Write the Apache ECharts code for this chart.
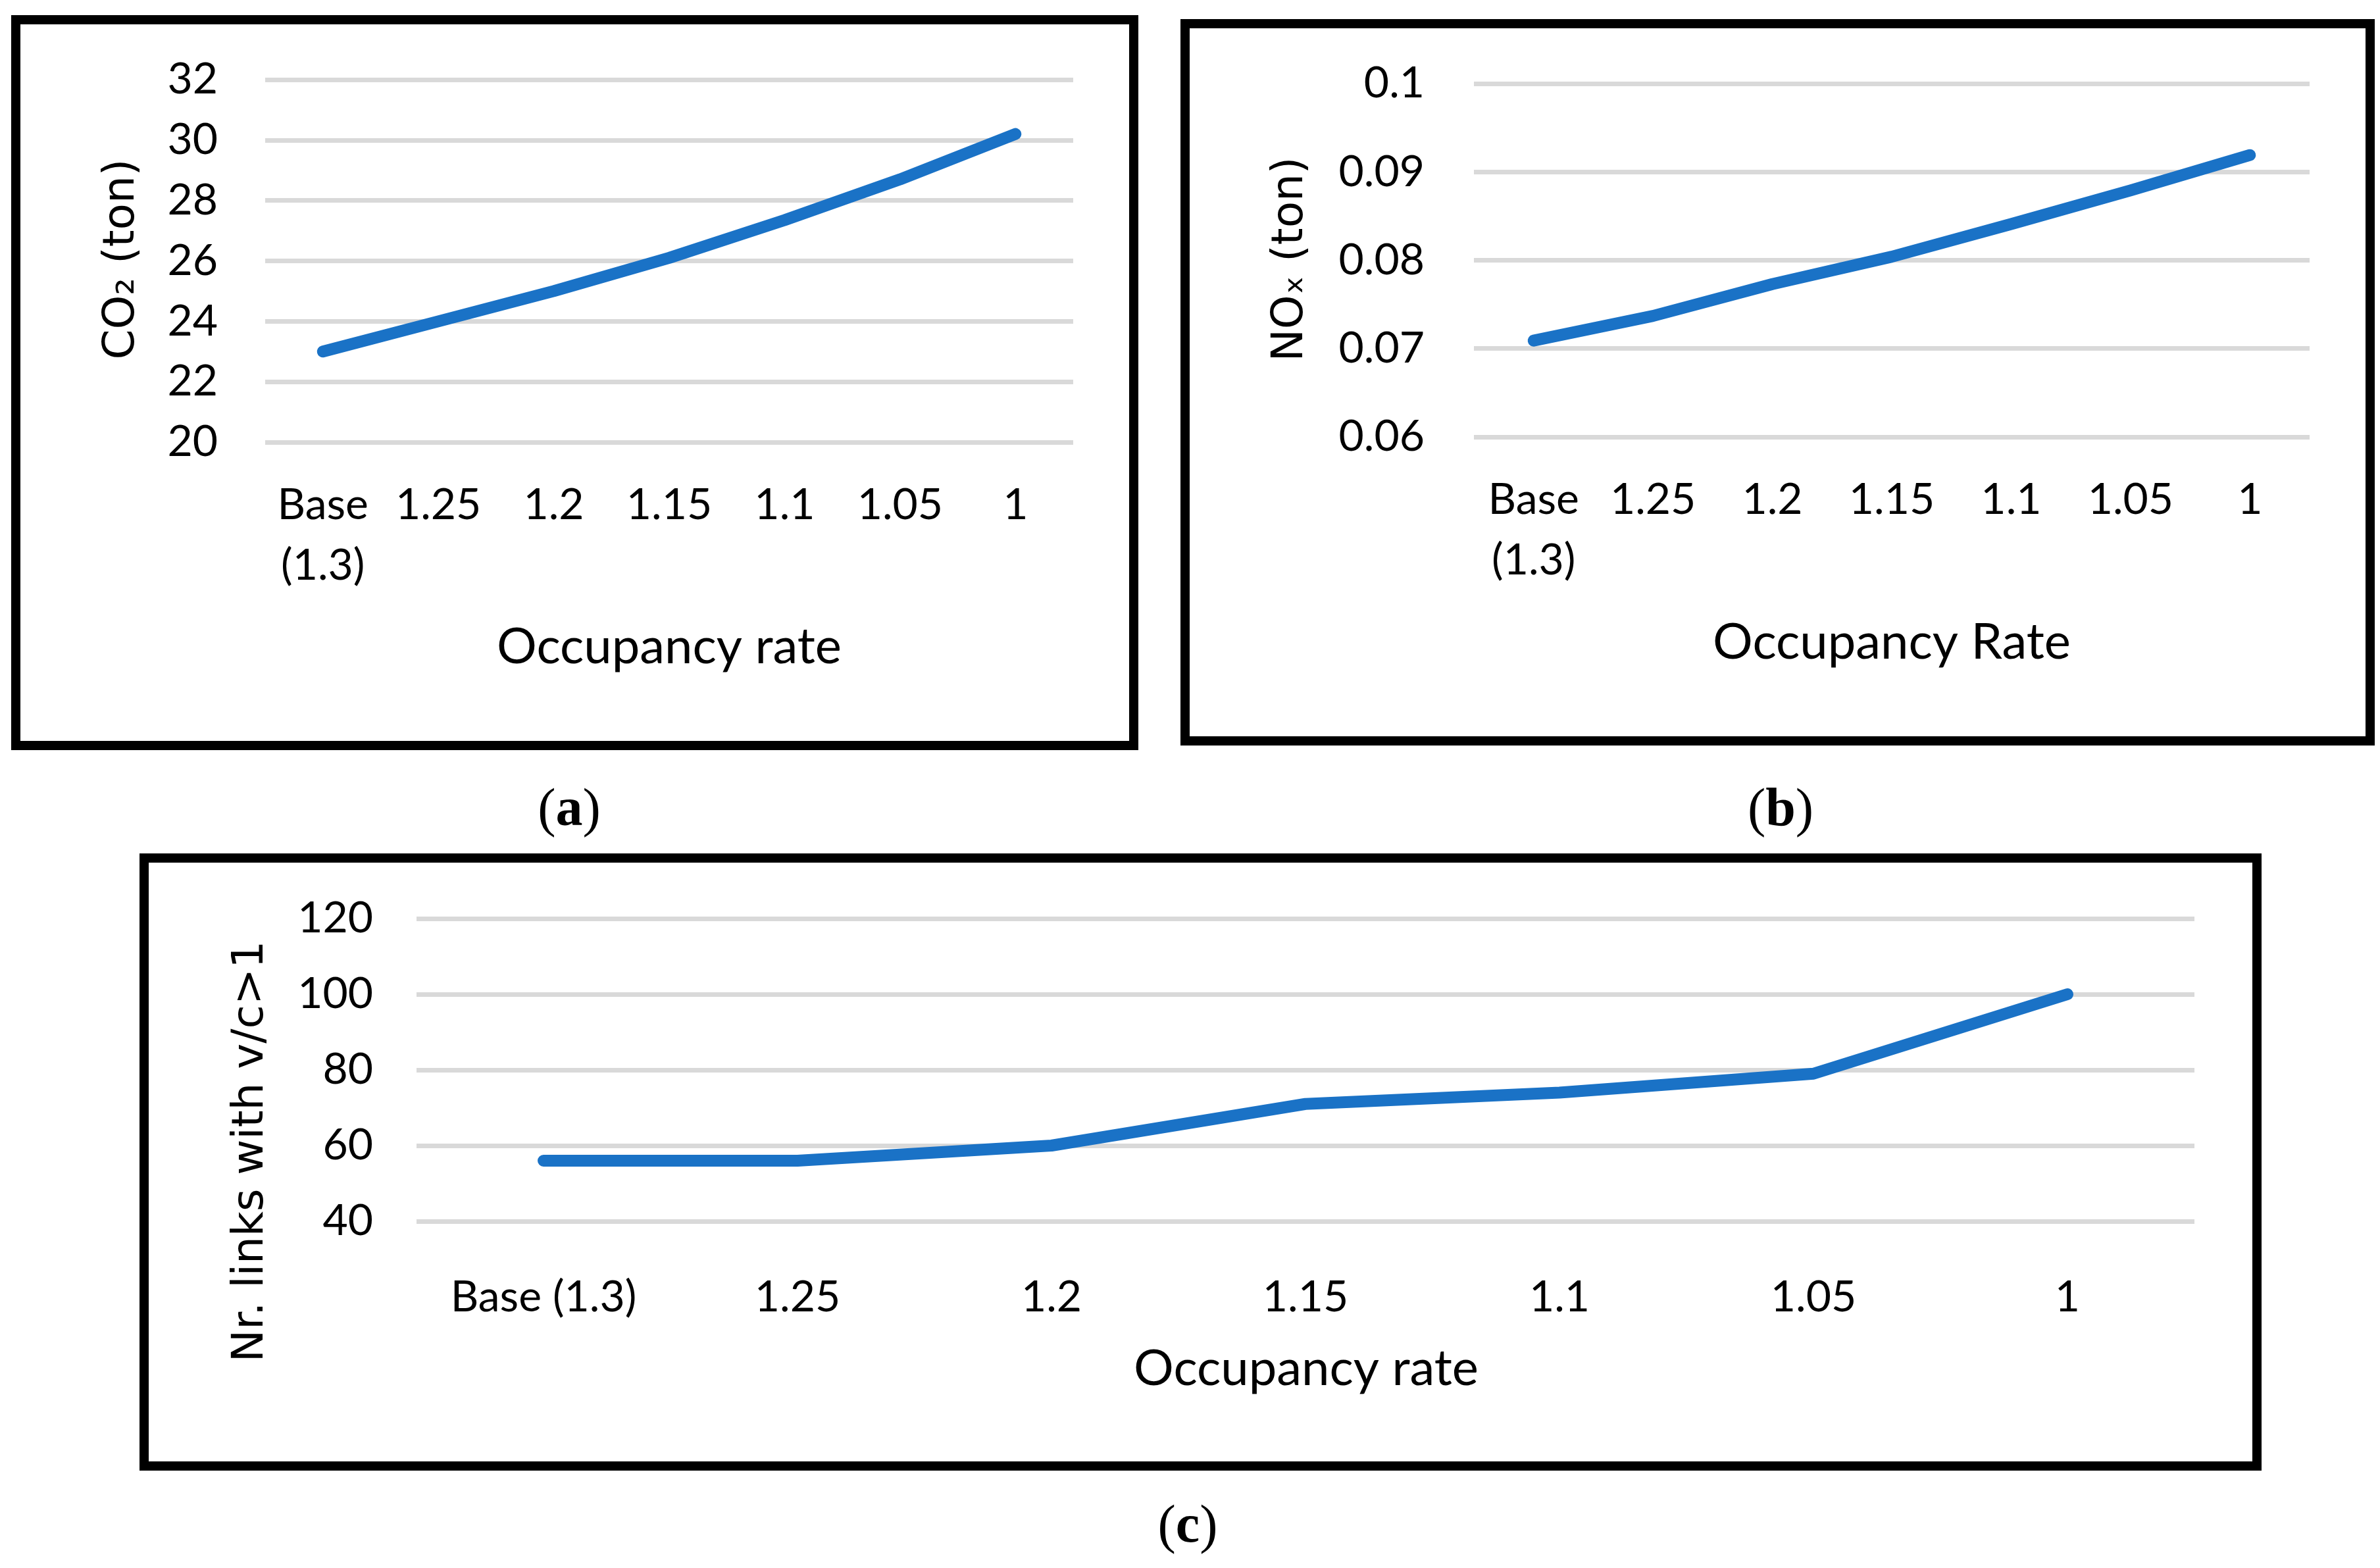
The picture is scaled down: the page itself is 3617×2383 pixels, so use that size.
<!DOCTYPE html>
<html>
<head>
<meta charset="utf-8">
<script src="https://cdn.jsdelivr.net/npm/echarts@6/dist/echarts.min.js"></script>
<style>
html,body{margin:0;padding:0;background:#fff;}
#chart{width:3617px;height:2383px;}
</style>
</head>
<body>
<div id="chart"></div>
<script>
// ---- data ----
const categories = ["Base (1.3)", "1.25", "1.2", "1.15", "1.1", "1.05", "1"];
const co2Values = [23.0, 24.0, 25.0, 26.1, 27.35, 28.7, 30.2];
const noxValues = [0.0709, 0.0737, 0.0773, 0.0804, 0.0841, 0.0879, 0.0919];
const linksValues = [56, 56, 60, 71, 74, 79, 100];
const co2Ticks = {min: 20, max: 32, interval: 2};
const noxTicks = {min: 0.06, max: 0.1, interval: 0.01};
const linksTicks = {min: 40, max: 120, interval: 20};

const LINE_COLOR = '#1a72c6';
const GRID_COLOR = '#d9d9d9';
const TICK_FONT = 'Lato';
const TITLE_FONT = 'DejaVu Sans';

function xAxisFor(gridIndex, wrap, margin) {
  return {
    type: 'category', gridIndex: gridIndex, data: categories, boundaryGap: true,
    axisLine: {show: false}, axisTick: {show: false}, splitLine: {show: false},
    axisLabel: {
      interval: 0, margin: margin, color: '#000', fontFamily: TICK_FONT, fontSize: 66,
      lineHeight: 92,
      formatter: wrap ? (v => v.replace(' ', '\n')) : (v => v)
    }
  };
}
function yAxisFor(gridIndex, t, fmt, margin) {
  return {
    type: 'value', gridIndex: gridIndex, min: t.min, max: t.max, interval: t.interval,
    axisLine: {show: false}, axisTick: {show: false},
    splitLine: {show: true, lineStyle: {color: GRID_COLOR, width: 7}},
    axisLabel: {margin: margin, color: '#000', fontFamily: TICK_FONT, fontSize: 66, formatter: fmt}
  };
}
function seriesFor(idx, data) {
  return {
    type: 'line', xAxisIndex: idx, yAxisIndex: idx, data: data,
    symbol: 'none', smooth: false,
    lineStyle: {color: LINE_COLOR, width: 18, cap: 'round', join: 'round'},
    itemStyle: {color: LINE_COLOR}
  };
}
function vText(x, y, text) {
  return {type: 'text', x: x, y: y, rotation: Math.PI / 2,
    style: {text: text, fontFamily: TITLE_FONT, fontSize: 66, fill: '#000', align: 'center', verticalAlign: 'middle'}};
}
function hText(x, y, text, size) {
  return {type: 'text', x: x, y: y,
    style: {text: text, fontFamily: TICK_FONT, fontSize: size, fill: '#000', align: 'center', verticalAlign: 'middle'}};
}
function caption(x, y, letter) {
  return {type: 'text', x: x, y: y,
    style: {text: '({b|' + letter + '})', fontFamily: 'Liberation Serif', fontSize: 82, fill: '#000',
      align: 'center', verticalAlign: 'middle',
      rich: {b: {fontFamily: 'Liberation Serif', fontSize: 82, fontWeight: 'bold', fill: '#000'}}}};
}
function box(x1, y1, x2, y2) {
  return {type: 'rect', shape: {x: x1, y: y1, width: x2 - x1, height: y2 - y1},
    style: {fill: 'none', stroke: '#000', lineWidth: 14}, z: 10};
}

const chart = echarts.init(document.getElementById('chart'), null, {renderer: 'canvas'});
chart.setOption({
  backgroundColor: '#fff',
  animation: false,
  grid: [
    {left: 403, top: 121, width: 1228, height: 551},
    {left: 2240, top: 127, width: 1270, height: 537},
    {left: 633, top: 1396, width: 2702, height: 460}
  ],
  xAxis: [xAxisFor(0, true, 50), xAxisFor(1, true, 50), xAxisFor(2, false, 70)],
  yAxis: [
    yAxisFor(0, co2Ticks, v => String(v), 72),
    yAxisFor(1, noxTicks, v => String(+v.toFixed(2)), 75),
    yAxisFor(2, linksTicks, v => String(v), 66)
  ],
  series: [seriesFor(0, co2Values), seriesFor(1, noxValues), seriesFor(2, linksValues)],
  graphic: [
    box(24, 30, 1723, 1133),
    box(1801, 36, 3602, 1126),
    box(219, 1304, 3430, 2228),
    vText(186, 394, 'CO\u2082 (ton)'),
    vText(1962, 394, 'NO\u2093 (ton)'),
    vText(382, 1750, 'Nr. links with v/c>1'),
    hText(1017, 983, 'Occupancy rate', 76),
    hText(2875, 976, 'Occupancy Rate', 76),
    hText(1985, 2080, 'Occupancy rate', 76),
    caption(865, 1233, 'a'),
    caption(2706, 1233, 'b'),
    caption(1805, 2322, 'c')
  ]
});
</script>
</body>
</html>
